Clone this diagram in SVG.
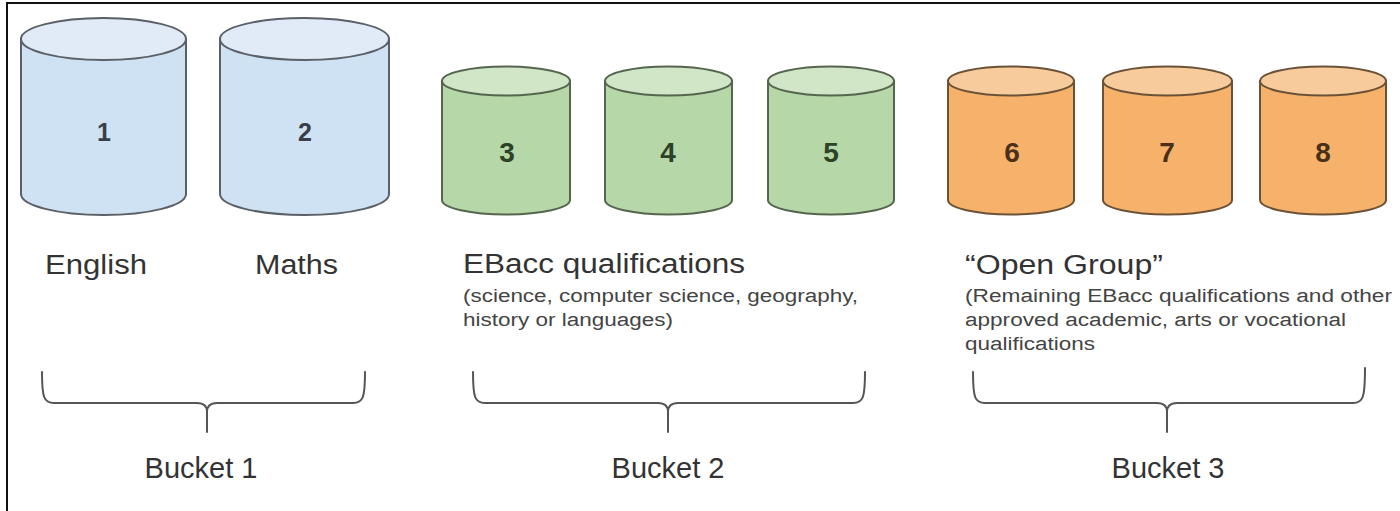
<svg xmlns="http://www.w3.org/2000/svg" width="1400" height="511" viewBox="0 0 1400 511">
<style>
text{font-family:"Liberation Sans",Arial,sans-serif;fill:#333}
.num{font-size:25px;text-anchor:middle;font-weight:bold}
.num2{font-size:28px;text-anchor:middle;font-weight:bold}
.title{font-size:27px}
.sub{font-size:18px;fill:#444}
.bucket{font-size:29px;text-anchor:middle}
.blue .body{fill:#cfe2f3;stroke:#5b5f66;stroke-width:2}
.blue .top{fill:#e0ebf7;stroke:#5b5f66;stroke-width:2}
.green .body{fill:#b6d7a8;stroke:#55654e;stroke-width:2}
.green .top{fill:#d0e6c6;stroke:#55654e;stroke-width:2}
.orange .body{fill:#f6b26b;stroke:#6b5236;stroke-width:2}
.orange .top{fill:#f8cb9c;stroke:#6b5236;stroke-width:2}
.blue text{fill:#3a3f47}
.green text{fill:#2e4227}
.orange text{fill:#4a3018}
.brace{fill:none;stroke:#555;stroke-width:2;stroke-linecap:round}
</style>
<rect width="1400" height="511" fill="#fff"/>
<path d="M7,511 V3 H1400" fill="none" stroke="#111" stroke-width="2"/>

<g id="cyl1" class="blue">
<path class="body" d="M21,39 V194 A82.5,21 0 0 0 186,194 V39 Z"/>
<ellipse class="top" cx="103.5" cy="39" rx="82.5" ry="21"/>
<text class="num" x="104" y="141">1</text>
</g>
<g id="cyl2" class="blue">
<path class="body" d="M220,39 V194 A84.5,21 0 0 0 389,194 V39 Z"/>
<ellipse class="top" cx="304.5" cy="39" rx="84.5" ry="21"/>
<text class="num" x="305" y="141">2</text>
</g>
<g id="cyl3" class="green">
<path class="body" d="M442,81 V200 A64,14.5 0 0 0 570,200 V81 Z"/>
<ellipse class="top" cx="506" cy="81" rx="64" ry="14.5"/>
<text class="num2" x="507" y="162">3</text>
</g>
<g id="cyl4" class="green">
<path class="body" d="M605,81 V200 A63.5,14.5 0 0 0 732,200 V81 Z"/>
<ellipse class="top" cx="668.5" cy="81" rx="63.5" ry="14.5"/>
<text class="num2" x="668" y="162">4</text>
</g>
<g id="cyl5" class="green">
<path class="body" d="M768,81 V200 A63,14.5 0 0 0 894,200 V81 Z"/>
<ellipse class="top" cx="831" cy="81" rx="63" ry="14.5"/>
<text class="num2" x="831" y="162">5</text>
</g>
<g id="cyl6" class="orange">
<path class="body" d="M948,81 V200 A63,14.5 0 0 0 1074,200 V81 Z"/>
<ellipse class="top" cx="1011" cy="81" rx="63" ry="14.5"/>
<text class="num2" x="1012" y="162">6</text>
</g>
<g id="cyl7" class="orange">
<path class="body" d="M1103,81 V200 A64.5,14.5 0 0 0 1232,200 V81 Z"/>
<ellipse class="top" cx="1167.5" cy="81" rx="64.5" ry="14.5"/>
<text class="num2" x="1167" y="162">7</text>
</g>
<g id="cyl8" class="orange">
<path class="body" d="M1260,81 V200 A63,14.5 0 0 0 1386,200 V81 Z"/>
<ellipse class="top" cx="1323" cy="81" rx="63" ry="14.5"/>
<text class="num2" x="1323" y="162">8</text>
</g>

<g id="labels">
<text class="title" x="45" y="274" textLength="102" lengthAdjust="spacingAndGlyphs">English</text>
<text class="title" x="255" y="274" textLength="83" lengthAdjust="spacingAndGlyphs">Maths</text>
<text class="title" x="463" y="273" textLength="282" lengthAdjust="spacingAndGlyphs">EBacc qualifications</text>
<text class="sub" x="463" y="302" textLength="395" lengthAdjust="spacingAndGlyphs">(science, computer science, geography,</text>
<text class="sub" x="463" y="326" textLength="210" lengthAdjust="spacingAndGlyphs">history or languages)</text>
<text class="title" x="965" y="274" textLength="198" lengthAdjust="spacingAndGlyphs">“Open Group”</text>
<text class="sub" x="965" y="302" textLength="427" lengthAdjust="spacingAndGlyphs">(Remaining EBacc qualifications and other</text>
<text class="sub" x="965" y="326" textLength="381" lengthAdjust="spacingAndGlyphs">approved academic, arts or vocational</text>
<text class="sub" x="965" y="350" textLength="130" lengthAdjust="spacingAndGlyphs">qualifications</text>
</g>

<g id="connectors">
<path class="brace" d="M42,372 C42,398 44,403 54,403 L197,403 Q207,403 207,412 L207,432 M207,412 Q207,403 217,403 L353,403 C363,403 365,398 365,372"/>
<path class="brace" d="M473,372 C473,398 475,403 485,403 L658,403 Q668,403 668,412 L668,432 M668,412 Q668,403 678,403 L853,403 C863,403 865,398 865,372"/>
<path class="brace" d="M973,372 C973,398 975,403 985,403 L1157,403 Q1167,403 1167,412 L1167,432 M1167,412 Q1167,403 1177,403 L1353,403 C1363,403 1365,398 1365,368"/>
</g>

<g id="buckets">
<text class="bucket" x="201" y="478">Bucket 1</text>
<text class="bucket" x="668" y="478">Bucket 2</text>
<text class="bucket" x="1168" y="478">Bucket 3</text>
</g>
</svg>
